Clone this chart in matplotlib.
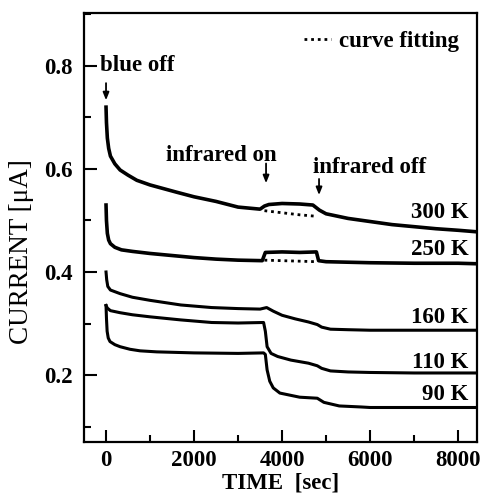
import matplotlib
matplotlib.use("Agg")
import matplotlib.pyplot as plt
from matplotlib.ticker import MultipleLocator

plt.rcParams["font.family"] = ["Liberation Serif", "DejaVu Serif"]
plt.rcParams["font.weight"] = "bold"

# photocurrent decay after blue light is switched off
t_300 = [0, 10, 30, 60, 100, 200, 320, 500, 700, 1000, 1300, 1600, 2000, 2500,
         3000, 3500, 3600, 3700, 4000, 4400, 4700, 4850, 5000, 5500, 6000,
         6500, 7000, 7500, 8000, 8430]
i_300 = [0.72, 0.69, 0.66, 0.64, 0.625, 0.61, 0.598, 0.588, 0.578, 0.569,
         0.562, 0.555, 0.546, 0.537, 0.526, 0.522, 0.528, 0.531, 0.533, 0.532,
         0.530, 0.520, 0.513, 0.504, 0.498, 0.492, 0.488, 0.484, 0.481, 0.478]

t_250 = [0, 10, 30, 60, 100, 200, 350, 600, 1000, 1500, 2000, 2500, 3000,
         3550, 3620, 4000, 4400, 4780, 4830, 5000, 5500, 6000, 7000, 8000, 8430]
i_250 = [0.53, 0.50, 0.475, 0.462, 0.455, 0.448, 0.443, 0.44, 0.436, 0.432,
         0.428, 0.425, 0.423, 0.422, 0.438, 0.439, 0.438, 0.439, 0.422, 0.42,
         0.419, 0.418, 0.417, 0.417, 0.416]

t_160 = [0, 15, 40, 100, 320, 600, 1000, 1700, 2400, 3000, 3500, 3650, 3800,
         4000, 4300, 4600, 4800, 4900, 5100, 5500, 6000, 7000, 8000, 8430]
i_160 = [0.40, 0.385, 0.372, 0.365, 0.358, 0.351, 0.345, 0.336, 0.331, 0.329,
         0.328, 0.331, 0.324, 0.316, 0.309, 0.303, 0.298, 0.293, 0.289, 0.288,
         0.287, 0.287, 0.287, 0.287]

t_110 = [0, 30, 100, 320, 600, 1000, 1700, 2400, 3000, 3580, 3620, 3660, 3750,
         3900, 4200, 4600, 4800, 4900, 5100, 5500, 6000, 7000, 8000, 8430]
i_110 = [0.335, 0.33, 0.325, 0.321, 0.317, 0.313, 0.307, 0.302, 0.301, 0.302,
         0.285, 0.255, 0.242, 0.236, 0.229, 0.223, 0.218, 0.213, 0.208, 0.206,
         0.205, 0.204, 0.204, 0.204]

t_90 = [0, 10, 25, 50, 90, 200, 320, 545, 773, 1150, 2000, 3000, 3580, 3620,
        3660, 3720, 3800, 3950, 4400, 4800, 4950, 5300, 5800, 6000, 7000, 8000,
        8430]
i_90 = [0.335, 0.31, 0.285, 0.272, 0.265, 0.259, 0.255, 0.25, 0.247, 0.245,
        0.243, 0.242, 0.243, 0.24, 0.21, 0.188, 0.175, 0.165, 0.157, 0.155,
        0.147, 0.14, 0.138, 0.137, 0.137, 0.137, 0.137]

# fitted decay during the infrared pulse
t_fit = [3600, 4000, 4400, 4800]
fit_300 = [0.519, 0.515, 0.511, 0.508]
fit_250 = [0.423, 0.422, 0.421, 0.420]

labels = ["300 K", "250 K", "160 K", "110 K", "90 K"]
label_y = [0.516, 0.443, 0.311, 0.225, 0.163]

fig = plt.figure(figsize=(4.84, 4.99), dpi=100)
ax = fig.add_axes([0.1736, 0.1142, 0.812, 0.86])

for t, i in [(t_300, i_300), (t_250, i_250)]:
    ax.plot(t, i, color="black", lw=2.6)
for t, i in [(t_160, i_160), (t_110, i_110), (t_90, i_90)]:
    ax.plot(t, i, color="black", lw=2.2)

dots = (0, (1, 1.4))
ax.plot(t_fit, fit_300, color="black", lw=2, ls=dots, label="curve fitting")
ax.plot(t_fit, fit_250, color="black", lw=2, ls=dots)

fs = 16.5
for lab, y in zip(labels, label_y):
    ax.text(8240, y, lab, ha="right", va="center", fontsize=fs)

arrow = dict(arrowstyle="-|>,head_width=0.18,head_length=0.45", color="black", lw=1.3)
ax.annotate("", xy=(0, 0.728), xytext=(0, 0.772), arrowprops=arrow)
ax.text(-130, 0.80, "blue off", ha="left", va="center", fontsize=fs)
ax.annotate("", xy=(3636, 0.567), xytext=(3636, 0.616), arrowprops=arrow)
ax.text(1360, 0.627, "infrared on", ha="left", va="center", fontsize=fs)
ax.annotate("", xy=(4840, 0.544), xytext=(4840, 0.586), arrowprops=arrow)
ax.text(4700, 0.602, "infrared off", ha="left", va="center", fontsize=fs)

ax.legend(loc="upper right", frameon=False, fontsize=fs, handlelength=1.15,
          handletextpad=0.35, borderaxespad=0.6, borderpad=0.2)

ax.set_xlim(-500, 8430)
ax.set_ylim(0.07, 0.903)
ax.xaxis.set_major_locator(MultipleLocator(2000))
ax.xaxis.set_minor_locator(MultipleLocator(1000))
ax.yaxis.set_major_locator(MultipleLocator(0.2))
ax.yaxis.set_minor_locator(MultipleLocator(0.1))
ax.tick_params(which="both", direction="in", width=1.5, labelsize=fs)
ax.tick_params(which="major", length=9)
ax.tick_params(which="minor", length=5)
ax.tick_params(axis="x", pad=6)
ax.tick_params(axis="y", pad=8)
for s in ax.spines.values():
    s.set_linewidth(1.6)

ax.set_xlabel("TIME  [sec]", fontsize=16.5, fontweight="bold", labelpad=1)
ax.set_ylabel("CURRENT [\u03bcA]", fontsize=19.5, fontweight="normal")
ax.yaxis.set_label_coords(-0.127, 0.443)

fig.savefig("out.png", dpi=100)
